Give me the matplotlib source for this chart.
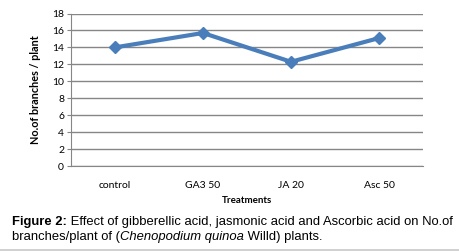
import matplotlib
matplotlib.use("Agg")
import matplotlib.pyplot as plt
from matplotlib.lines import Line2D
from matplotlib.offsetbox import TextArea, HPacker, AnchoredOffsetbox

categories = ["control", "GA3 50", "JA 20", "Asc 50"]
values = [14.0, 15.7, 12.3, 15.1]
yticks = [0, 2, 4, 6, 8, 10, 12, 14, 16, 18]

fig = plt.figure(figsize=(4.6, 2.52), dpi=100)
W, H = 460, 252
ax = fig.add_axes([71 / W, 1 - 166 / H, (423 - 71) / W, (166 - 13.5) / H])

x = list(range(len(categories)))
ax.plot(x, values, color="#4a7ebb", lw=3, marker="D", ms=6.5,
        markerfacecolor="#4a7ebb", markeredgecolor="#4a7ebb", zorder=3)
ax.set_xlim(-0.5, len(categories) - 0.5)
ax.set_ylim(0, 18)
ax.set_yticks(yticks)
ax.set_yticklabels([str(t) for t in yticks])
ax.set_xticks(x)
ax.set_xticklabels(categories)
ax.yaxis.grid(True, color="#868686", lw=1)
ax.set_axisbelow(True)
for s in ["top", "right"]:
    ax.spines[s].set_visible(False)
ax.spines["left"].set_color("#868686")
ax.spines["bottom"].set_color("#868686")
ax.tick_params(axis="y", length=3, color="#868686", labelsize=7.5, pad=2)
ax.tick_params(axis="x", length=0, labelsize=7.5, pad=11)
for lbl in ax.get_xticklabels() + ax.get_yticklabels():
    lbl.set_family(["Lato", "DejaVu Sans"])
ax.set_xlabel("Treatments", fontsize=7, fontweight="bold", family="Lato", labelpad=4)
ax.set_ylabel("No.of branches / plant", fontsize=7.8, fontweight="bold", family="Lato", labelpad=8)

cap_font = ["Liberation Sans", "DejaVu Sans"]
fs = 9.4
a = TextArea("Figure 2:", textprops=dict(fontsize=fs, fontweight="bold", family=cap_font))
b = TextArea(" Effect of gibberellic acid, jasmonic acid and Ascorbic acid on No.of",
             textprops=dict(fontsize=fs, family=cap_font))
line1 = HPacker(children=[a, b], align="baseline", pad=0, sep=0)
c = TextArea("branches/plant of (", textprops=dict(fontsize=fs, family=cap_font))
d = TextArea("Chenopodium quinoa", textprops=dict(fontsize=fs, style="italic", family=cap_font))
e = TextArea(" Willd) plants.", textprops=dict(fontsize=fs, family=cap_font))
line2 = HPacker(children=[c, d, e], align="baseline", pad=0, sep=0)
ab1 = AnchoredOffsetbox(loc="lower left", child=line1, pad=0, frameon=False,
                        bbox_to_anchor=(12 / W, 1 - 228 / H), bbox_transform=fig.transFigure, borderpad=0)
ab2 = AnchoredOffsetbox(loc="lower left", child=line2, pad=0, frameon=False,
                        bbox_to_anchor=(12 / W, 1 - 243 / H), bbox_transform=fig.transFigure, borderpad=0)
fig.add_artist(ab1)
fig.add_artist(ab2)

fig.add_artist(Line2D([0, 1], [1 - 249.5 / H, 1 - 249.5 / H], transform=fig.transFigure,
                      color="#c8c8c8", lw=1.2))

fig.savefig("out.png", dpi=100)
